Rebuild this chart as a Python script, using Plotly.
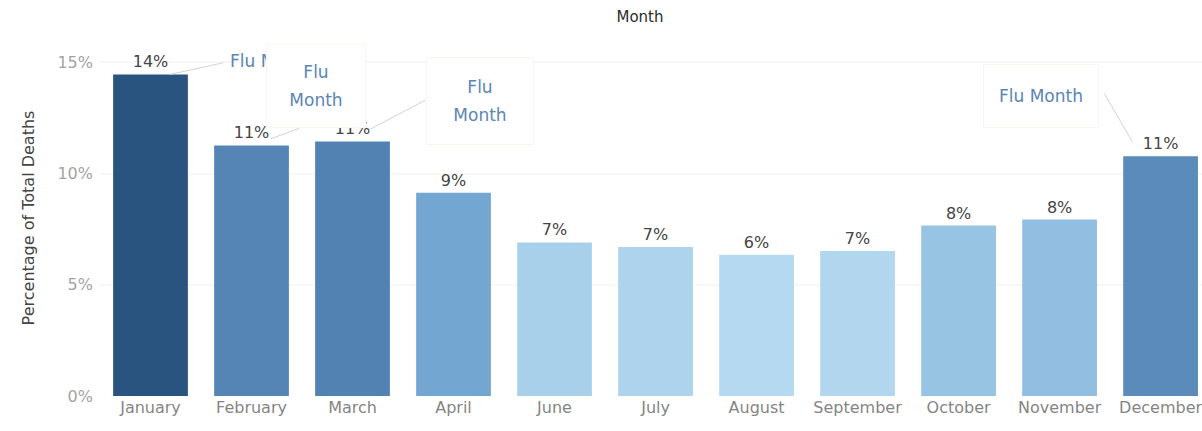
import plotly.graph_objects as go

# Share of all deaths falling in each month (percent)
months = ["January", "February", "March", "April", "June", "July",
          "August", "September", "October", "November", "December"]
share_pct = [14.45, 11.26, 11.44, 9.14, 6.90, 6.70, 6.35, 6.52, 7.66, 7.93, 10.78]

y_ticks = [0, 5, 10, 15]
y_tick_text = ["0%", "5%", "10%", "15%"]

flu_note = "Flu Month"

FONT = "DejaVu Sans"
NOTE_BLUE = "#5a86b3"
LINK_GREY = "#d2d2d2"
BOX_EDGE = "#f8f6f0"

# sequential blue ramp keyed to the bar value
blue_ramp = [
    [0.00, "#b5d9f0"],
    [0.16, "#98c4e4"],
    [0.34, "#75a7d3"],
    [0.55, "#5a8bba"],
    [0.62, "#5383b3"],
    [1.00, "#29547f"],
]

fig = go.Figure(
    go.Bar(
        x=months,
        y=share_pct,
        marker=dict(
            color=share_pct,
            colorscale=blue_ramp,
            cmin=min(share_pct),
            cmax=max(share_pct),
            line=dict(width=0),
        ),
        texttemplate="%{y:.0f}%",
        textposition="outside",
        textfont=dict(family=FONT, size=16, color="#444444"),
        cliponaxis=False,
        hoverinfo="skip",
    )
)


def idx(m):
    return months.index(m)


def val(m):
    return share_pct[idx(m)]


def two_line(text):
    # larger type on each word, small base size sets the wide line pitch
    a, b = text.split(" ")
    big = "<span style='font-size:17px'>{}</span>"
    return big.format(a) + "<br>\u00a0<br>" + big.format(b)


notes = []

# January: connector + single-line note (partly hidden by February's box)
notes.append(dict(x=idx("January") + 0.19, y=val("January"), ax=55, ay=-12,
                  text="", showarrow=True, arrowhead=0, arrowwidth=1,
                  arrowcolor=LINK_GREY))
notes.append(dict(x=idx("January"), y=val("January"), xshift=77, yshift=13,
                  xanchor="left", yanchor="middle", text=flu_note,
                  showarrow=False, font=dict(family=FONT, size=17, color=NOTE_BLUE)))

# February: connector + boxed two-line note
notes.append(dict(x=idx("February") + 0.19, y=val("February") + 0.3, ax=30, ay=-11,
                  text="", showarrow=True, arrowhead=0, arrowwidth=1,
                  arrowcolor=LINK_GREY))
notes.append(dict(x=idx("February"), y=val("February"), xshift=14, yshift=17,
                  xanchor="left", yanchor="bottom", text=two_line(flu_note),
                  width=92, height=76, align="center", valign="middle",
                  bgcolor="white", bordercolor=BOX_EDGE, borderwidth=1, borderpad=3,
                  showarrow=False, font=dict(family=FONT, size=11, color=NOTE_BLUE)))

# March: connector + boxed two-line note
notes.append(dict(x=idx("March") + 0.175, y=val("March") + 0.55, ax=57, ay=-30,
                  text="", showarrow=True, arrowhead=0, arrowwidth=1,
                  arrowcolor=LINK_GREY))
notes.append(dict(x=idx("March"), y=val("March"), xshift=127, yshift=40,
                  xanchor="center", yanchor="middle", text=two_line(flu_note),
                  width=100, height=80, align="center", valign="middle",
                  bgcolor="white", bordercolor=BOX_EDGE, borderwidth=1, borderpad=3,
                  showarrow=False, font=dict(family=FONT, size=11, color=NOTE_BLUE)))

# December: connector + boxed single-line note
notes.append(dict(x=idx("December") - 0.28, y=val("December") + 0.65, ax=-29, ay=-50,
                  text="", showarrow=True, arrowhead=0, arrowwidth=1,
                  arrowcolor=LINK_GREY))
notes.append(dict(x=idx("December"), y=val("December"), xshift=-120, yshift=60,
                  xanchor="center", yanchor="middle", text=flu_note,
                  width=108, height=56, align="center", valign="middle",
                  bgcolor="white", bordercolor=BOX_EDGE, borderwidth=1, borderpad=3,
                  showarrow=False, font=dict(family=FONT, size=17, color=NOTE_BLUE)))

for n in notes:
    n.setdefault("xref", "x")
    n.setdefault("yref", "y")

fig.update_layout(
    width=1202,
    height=431,
    margin=dict(l=100, r=0, t=40, b=35),
    paper_bgcolor="white",
    plot_bgcolor="white",
    bargap=0.26,
    showlegend=False,
    font=dict(family=FONT, color="#555555"),
    title=dict(
        text="Month",
        x=640 / 1202,
        xanchor="center",
        xref="container",
        y=1 - 17 / 431,
        yanchor="middle",
        yref="container",
        font=dict(family=FONT, size=15, color="#2b2b2b"),
    ),
    xaxis=dict(
        type="category",
        range=[-0.5, 10.41],
        showline=False,
        showgrid=False,
        ticks="",
        tickfont=dict(family=FONT, size=16, color="#858585"),
        automargin=False,
        fixedrange=True,
    ),
    yaxis=dict(
        range=[0, 16.0],
        tickvals=y_ticks,
        ticktext=y_tick_text,
        tickfont=dict(family=FONT, size=16, color="#a3a3a3"),
        ticklabelstandoff=6,
        showgrid=True,
        gridcolor="#f7f7f7",
        gridwidth=2,
        zeroline=False,
        showline=False,
        ticks="",
        automargin=False,
        fixedrange=True,
        title=dict(
            text="Percentage of Total Deaths",
            font=dict(family=FONT, size=16, color="#444444"),
            standoff=18,
        ),
    ),
    annotations=notes,
)

fig.write_html("out.html")
